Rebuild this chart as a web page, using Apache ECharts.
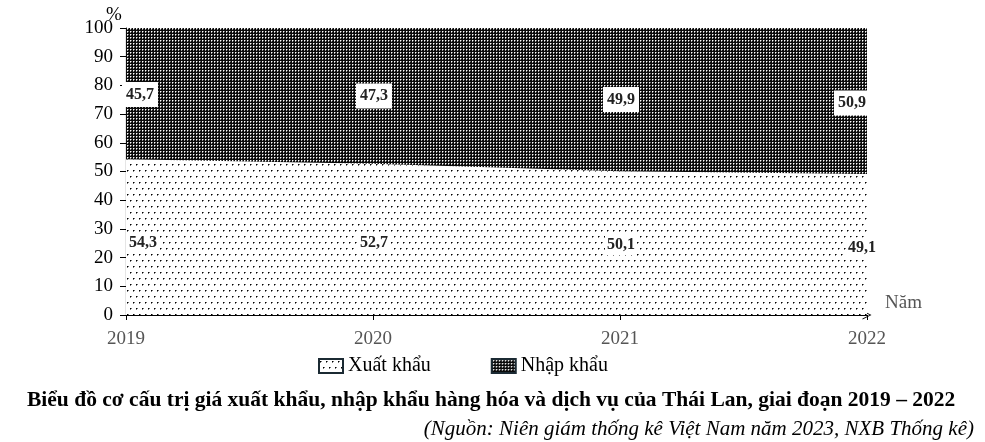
<!DOCTYPE html>
<html>
<head>
<meta charset="utf-8">
<script src="https://cdn.jsdelivr.net/npm/echarts@6/dist/echarts.min.js"></script>
<style>
html,body{margin:0;padding:0;background:#fff;}
#chart{width:985px;height:442px;}
</style>
</head>
<body>
<div id="chart"></div>
<script>
// ---- data ----
var years = ['2019', '2020', '2021', '2022'];
var exportShare = [54.3, 52.7, 50.1, 49.1];   // Xuất khẩu (%)
var importShare = [45.7, 47.3, 49.9, 50.9];   // Nhập khẩu (%)
var yTicks = [0, 10, 20, 30, 40, 50, 60, 70, 80, 90, 100];
var seriesNames = ['Xuất khẩu', 'Nhập khẩu'];

// ---- patterns ----
function makePattern(w, h, draw) {
  var c = document.createElement('canvas');
  c.width = w; c.height = h;
  var ctx = c.getContext('2d');
  draw(ctx);
  return { image: c, repeat: 'repeat' };
}
var dotPattern = makePattern(6, 12, function (ctx) {
  ctx.fillStyle = '#fff'; ctx.fillRect(0, 0, 6, 12);
  ctx.fillStyle = '#000';
  ctx.fillRect(1, 2, 1, 1); ctx.fillRect(4, 8, 1, 1);
  ctx.fillStyle = '#777';
  ctx.fillRect(2, 2, 1, 1); ctx.fillRect(5, 8, 1, 1);
  ctx.fillRect(1, 3, 1, 1); ctx.fillRect(4, 9, 1, 1);
});
var darkPattern = makePattern(3, 3, function (ctx) {
  ctx.fillStyle = '#0a0a0a'; ctx.fillRect(0, 0, 3, 3);
  ctx.fillStyle = '#fff'; ctx.fillRect(1, 1, 1, 1);
  ctx.fillStyle = '#777'; ctx.fillRect(2, 1, 1, 1);
  ctx.fillStyle = '#999'; ctx.fillRect(1, 2, 1, 1);
});

function fmt(v) { return v.toFixed(1).replace('.', ','); }

// label offsets (style only)
var impOffsets = [[14, 1], [1, 0], [1, 0], [-15, 2]];
var expOffsets = [[17, 6], [1, 3], [1, 2], [-5, 3]];

var labelData = [];
years.forEach(function (y, i) {
  labelData.push({
    value: [i, importShare[i] / 2 + exportShare[i]],
    text: fmt(importShare[i]),
    label: { offset: impOffsets[i], padding: [5, 4, 4, 4] }
  });
  labelData.push({
    value: [i, exportShare[i] / 2],
    text: fmt(exportShare[i]),
    label: { offset: expOffsets[i], padding: [2, 2, 2, 2] }
  });
});

var serif = 'Liberation Serif';
var chart = echarts.init(document.getElementById('chart'));
chart.setOption({
  animation: false,
  backgroundColor: '#fff',
  title: [{
    text: 'Biểu đồ cơ cấu trị giá xuất khẩu, nhập khẩu hàng hóa và dịch vụ của Thái Lan, giai đoạn 2019 – 2022',
    left: 22, top: 384,
    textStyle: { fontFamily: serif, fontWeight: 'bold', fontSize: 21.5, color: '#000' }
  }, {
    text: '(Nguồn: Niên giám thống kê Việt Nam năm 2023, NXB Thống kê)',
    right: 6, top: 414,
    textStyle: { fontFamily: serif, fontStyle: 'italic', fontWeight: 'normal', fontSize: 21, color: '#000' }
  }],
  graphic: [{
    type: 'text', left: 106, top: 6,
    style: { text: '%', font: '19px "Liberation Serif"', fill: '#000' }
  }],
  legend: {
    left: 313, top: 351,
    itemWidth: 24, itemHeight: 14, itemGap: 60,
    textStyle: { fontFamily: serif, fontSize: 20, color: '#000' },
    data: [
      { name: seriesNames[0], icon: 'rect', itemStyle: { color: dotPattern, borderColor: '#1b2a33', borderWidth: 2 } },
      { name: seriesNames[1], icon: 'rect', itemStyle: { color: darkPattern, borderColor: '#1b2a33', borderWidth: 2 } }
    ]
  },
  grid: { left: 126, right: 118, top: 28, bottom: 127, containLabel: false },
  xAxis: {
    type: 'category', boundaryGap: false, data: years,
    name: 'Năm', nameLocation: 'end', nameGap: 18,
    nameTextStyle: { fontFamily: serif, fontSize: 19, color: '#555', verticalAlign: 'bottom', padding: [0, 0, 2, 0] },
    axisLine: { lineStyle: { color: '#000', width: 1.2 }, symbol: ['none', 'path://M0,10 L5,0 L10,10 L9,10 L5,2 L1,10 Z'], symbolSize: [9, 10], symbolOffset: [0, 0] },
    axisTick: { show: true, length: 5, lineStyle: { color: '#000' } },
    axisLabel: { fontFamily: serif, fontSize: 19, color: '#555', margin: 15 },
    splitLine: { show: false }
  },
  yAxis: {
    type: 'value', min: yTicks[0], max: yTicks[yTicks.length - 1], interval: 10,
    axisLine: { show: true, lineStyle: { color: '#000', width: 1.2 } },
    axisTick: { show: true, length: 6, lineStyle: { color: '#000' } },
    axisLabel: { fontFamily: serif, fontSize: 19, color: '#000', margin: 13 },
    splitLine: { show: false }
  },
  series: [{
    name: seriesNames[0], type: 'line', stack: 'total', data: exportShare,
    symbol: 'none', lineStyle: { width: 0 },
    areaStyle: { color: dotPattern, opacity: 1 }, z: 2
  }, {
    name: seriesNames[1], type: 'line', stack: 'total', data: importShare,
    symbol: 'none', lineStyle: { width: 0 },
    areaStyle: { color: darkPattern, opacity: 1 }, z: 2
  }, {
    type: 'scatter', data: labelData, symbolSize: 0, z: 5, silent: true,
    itemStyle: { opacity: 1, color: '#fff' },
    label: {
      show: true, position: 'inside', opacity: 1,
      formatter: function (p) { return p.data.text; },
      fontFamily: serif, fontWeight: 'bold', fontSize: 16, color: '#222',
      backgroundColor: '#fff'
    }
  }]
});
</script>
</body>
</html>
